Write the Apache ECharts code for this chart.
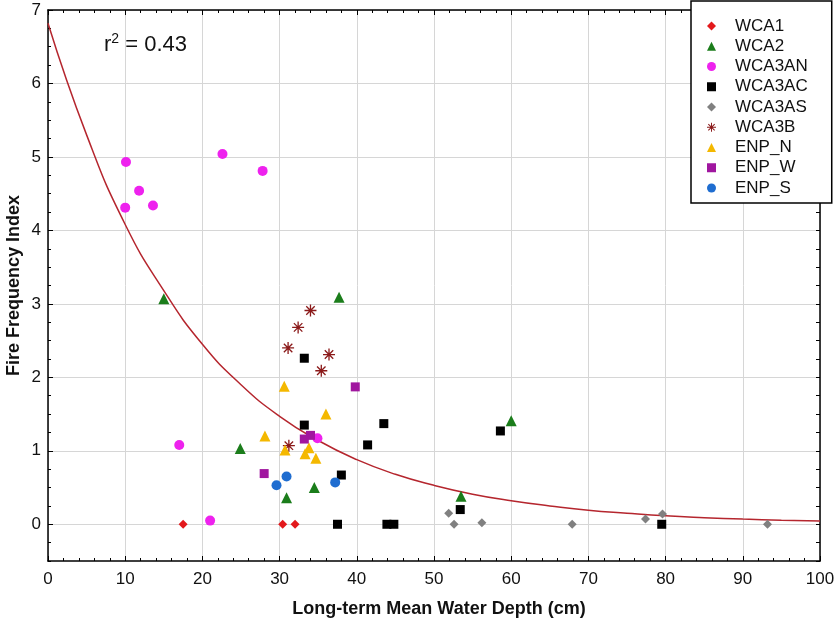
<!DOCTYPE html>
<html>
<head>
<meta charset="utf-8">
<script src="https://cdn.jsdelivr.net/npm/echarts@6/dist/echarts.min.js"></script>
<style>html,body{margin:0;padding:0;background:#fff}#c{width:835px;height:625px}</style>
</head>
<body>
<div id="c"></div>
<script>
// ---- data (x = long-term mean water depth cm, y = fire frequency index) ----
const WCA1 = [[17.5,0],[30.4,0],[32.0,0]];
const WCA2 = [[15.0,3.07],[24.9,1.03],[30.9,0.36],[34.5,0.50],[37.7,3.09],[53.5,0.38],[60.0,1.41]];
const WCA3AN = [[10.1,4.93],[11.8,4.54],[10.0,4.31],[13.6,4.34],[22.6,5.04],[27.8,4.81],[17.0,1.08],[21.0,0.05],[34.9,1.17]];
const WCA3AC = [[33.2,2.26],[33.2,1.35],[43.5,1.37],[41.4,1.08],[38.0,0.67],[37.5,0],[43.9,0],[44.8,0],[53.4,0.20],[58.6,1.27],[79.5,0]];
const WCA3AS = [[51.9,0.15],[52.6,0],[56.2,0.02],[67.9,0],[77.4,0.07],[79.6,0.14],[93.2,0]];
const WCA3B = [[34.0,2.91],[32.4,2.68],[31.1,2.40],[36.4,2.31],[35.4,2.09],[31.2,1.07]];
const ENP_N = [[30.6,1.88],[36.0,1.50],[28.1,1.20],[30.7,1.01],[33.8,1.04],[33.3,0.96],[34.7,0.90]];
const ENP_W = [[39.8,1.87],[33.2,1.16],[34.0,1.21],[28.0,0.69]];
const ENP_S = [[30.9,0.65],[29.6,0.53],[37.2,0.57]];
// fitted curve
const fitX = [0,5,10,15,20,25,30,35,40,45,50,55,60,65,70,75,80,85,90,95,100];
const fitY = [6.82,5.30,4.08,3.18,2.45,1.90,1.47,1.14,0.88,0.68,0.53,0.41,0.32,0.25,0.19,0.15,0.115,0.09,0.07,0.055,0.043];
const yTickLabels = [0,1,2,3,4,5,6,7];
const rText = '{b|r}{s|2}{b| = 0.43}';

const FONT = 'Liberation Sans, Arial, sans-serif';
const asterisk = 'path://M10.8,1L13.2,1L13.2,23L10.8,23Z M1,10.8L23,10.8L23,13.2L1,13.2Z M5.1,3.4L20.6,18.9L18.9,20.6L3.4,5.1Z M18.9,3.4L20.6,5.1L5.1,20.6L3.4,18.9Z';

const seriesDefs = [
  {name:'WCA1', data:WCA1, symbol:'diamond', size:9, color:'#e3191c'},
  {name:'WCA2', data:WCA2, symbol:'triangle', size:11, color:'#1b7d1b'},
  {name:'WCA3AN', data:WCA3AN, symbol:'circle', size:10, color:'#ee22ee'},
  {name:'WCA3AC', data:WCA3AC, symbol:'rect', size:9, color:'#000000'},
  {name:'WCA3AS', data:WCA3AS, symbol:'diamond', size:9, color:'#808080'},
  {name:'WCA3B', data:WCA3B, symbol:asterisk, size:12, color:'#8b1a1a'},
  {name:'ENP_N', data:ENP_N, symbol:'triangle', size:11, color:'#f4b800'},
  {name:'ENP_W', data:ENP_W, symbol:'rect', size:9, color:'#a0169f'},
  {name:'ENP_S', data:ENP_S, symbol:'circle', size:10, color:'#1f6dd0'}
];

const chart = echarts.init(document.getElementById('c'), null, {renderer:'canvas'});
const yRange = {min:-0.5, max:7};
const series = [{
  name:'fit', type:'line', data: fitX.map((x,i)=>[x,fitY[i]]), smooth:true, showSymbol:false,
  lineStyle:{color:'#b5262e', width:1.5}, z:1, silent:true
}];
seriesDefs.forEach(s=>series.push({
  name:s.name, type:'scatter', data:s.data, symbol:s.symbol, symbolSize:s.size,
  itemStyle:{color:s.color, opacity:1}, z:3
}));

chart.setOption({
  animation:false,
  backgroundColor:'#ffffff',
  textStyle:{fontFamily:FONT},
  grid:{left:48, right:15, top:10, bottom:64, containLabel:false, outerBoundsMode:'none'},
  xAxis:[
    {type:'value', position:'bottom', min:0, max:100, interval:10,
     axisLine:{show:true, onZero:false, lineStyle:{color:'#000', width:1.5}},
     axisTick:{show:true, inside:true, length:5, lineStyle:{color:'#000'}},
     minorTick:{show:true, splitNumber:5, length:3, lineStyle:{color:'#000'}},
     splitLine:{show:true, lineStyle:{color:'#d6d6d6', width:1}},
     axisLabel:{color:'#111', fontSize:17, margin:10, fontFamily:FONT},
     name:'Long-term Mean Water Depth (cm)', nameLocation:'middle', nameGap:39,
     nameTextStyle:{fontSize:18, fontWeight:'bold', color:'#111', fontFamily:FONT, padding:[0,0,0,10]}},
    {type:'value', position:'top', min:0, max:100, interval:10,
     axisLine:{show:true, onZero:false, lineStyle:{color:'#000', width:1.5}},
     axisTick:{show:true, inside:true, length:5, lineStyle:{color:'#000'}},
     minorTick:{show:true, splitNumber:5, length:3, lineStyle:{color:'#000'}},
     splitLine:{show:false}, axisLabel:{show:false}}
  ],
  yAxis:[
    {type:'value', position:'left', min:yRange.min, max:yRange.max,
     axisLine:{show:true, onZero:false, lineStyle:{color:'#000', width:1.5}},
     axisTick:{show:true, inside:true, length:5, customValues:yTickLabels, lineStyle:{color:'#000'}},
     splitLine:{show:true, lineStyle:{color:'#d6d6d6', width:1}},
     axisLabel:{color:'#111', fontSize:17, margin:7, customValues:yTickLabels, fontFamily:FONT},
     name:'Fire Frequency Index', nameLocation:'middle', nameGap:25, nameMoveOverlap:false,
     nameTextStyle:{fontSize:18, fontWeight:'bold', color:'#111', fontFamily:FONT}},
    {type:'value', position:'left', min:yRange.min, max:yRange.max, interval:0.25,
     axisLine:{show:false, onZero:false}, axisTick:{show:true, inside:true, length:3, lineStyle:{color:'#000'}},
     splitLine:{show:false}, axisLabel:{show:false}},
    {type:'value', position:'right', min:yRange.min, max:yRange.max, interval:0.25,
     axisLine:{show:true, onZero:false, lineStyle:{color:'#000', width:1.5}},
     axisTick:{show:true, inside:true, length:4, lineStyle:{color:'#000'}},
     splitLine:{show:false}, axisLabel:{show:false}}
  ],
  legend:{
    data: seriesDefs.map(s=>s.name), orient:'vertical', left:691, top:1,
    backgroundColor:'#fff', borderColor:'#000', borderWidth:1.5, borderRadius:0,
    padding:[16,24,6,16], itemWidth:9, itemHeight:9, itemGap:2.25,
    textStyle:{fontSize:17, color:'#111', lineHeight:18, fontFamily:FONT, padding:[0,0,0,14]},
    selectedMode:false
  },
  graphic:[{type:'text', left:104, top:32, style:{text:rText, fill:'#111', fontFamily:FONT,
    rich:{b:{fontSize:22, lineHeight:26, fill:'#111', fontFamily:FONT},
          s:{fontSize:14, lineHeight:26, fill:'#111', verticalAlign:'top', fontFamily:FONT}}}}],
  series: series
});
</script>
</body>
</html>
